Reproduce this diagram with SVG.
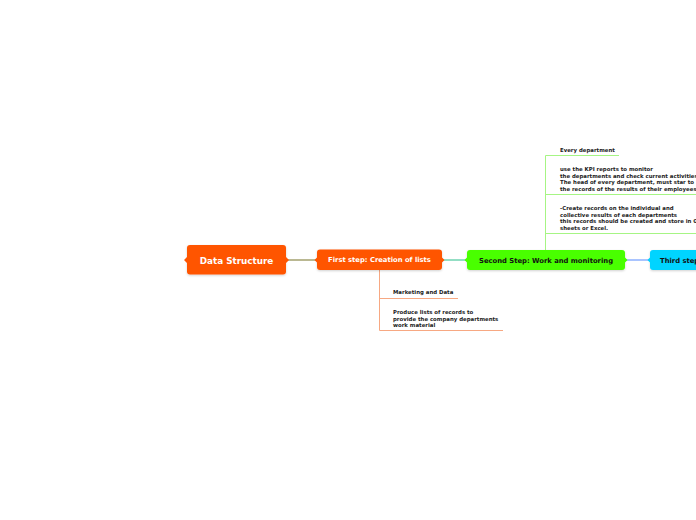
<svg xmlns="http://www.w3.org/2000/svg" width="696" height="520" viewBox="0 0 696 520">
<style>
.n{font-family:"DejaVu Sans",Verdana,sans-serif;font-weight:bold}
.w{fill:#ffffff}
.k{fill:#111111}
.c{font-family:"DejaVu Sans",Verdana,sans-serif;font-weight:bold;font-size:5.4px;fill:#222222}
.lo{stroke:#f7a882;stroke-width:1;fill:none}
.lg{stroke:#a6f584;stroke-width:1;fill:none}
</style>
<defs>
<filter id="sh" x="-10%" y="-20%" width="120%" height="150%">
<feDropShadow dx="0" dy="1" stdDeviation="1" flood-color="#000" flood-opacity="0.18"/>
</filter>
</defs>
<rect width="696" height="520" fill="#ffffff"/>
<g id="connectors">
<line x1="286" y1="260" x2="317" y2="260" stroke="#a3a06e" stroke-width="1.5"/>
<line x1="442" y1="260" x2="467" y2="260" stroke="#6fd3b0" stroke-width="1.5"/>
<line x1="625" y1="260" x2="650" y2="260" stroke="#8cb0ff" stroke-width="1.5"/>
<path class="lo" d="M379.5 270 V330.5"/>
<path class="lo" d="M379.5 298.5 H458"/>
<path class="lo" d="M379.5 330.5 H503"/>
<path class="lg" d="M545.5 250 V155.5"/>
<path class="lg" d="M545.5 155.5 H619"/>
<path class="lg" d="M545.5 194.5 H696"/>
<path class="lg" d="M545.5 233.5 H696"/>
</g>
<g id="node-data-structure">
<rect x="187" y="245" width="99" height="29.5" rx="3" fill="#ff5500" filter="url(#sh)"/>
<path d="M187 257 L184 260 L187 263 Z M286 257 L289 260 L286 263 Z" fill="#ff5500"/>
<text class="n w" x="236.5" y="263.5" font-size="8.8" text-anchor="middle">Data Structure</text>
</g>
<g id="node-first-step">
<rect x="317" y="249.5" width="125" height="20.5" rx="3" fill="#ff5500" filter="url(#sh)"/>
<path d="M317 257.5 L314.5 260 L317 262.5 Z M442 257.5 L444.5 260 L442 262.5 Z" fill="#ff5500"/>
<text class="n w" x="379.5" y="262.4" font-size="6.8" text-anchor="middle">First step: Creation of lists</text>
</g>
<g id="node-second-step">
<rect x="467" y="250" width="158" height="20" rx="3" fill="#48ff00" filter="url(#sh)"/>
<path d="M467 257.5 L464.5 260 L467 262.5 Z M625 257.5 L627.5 260 L625 262.5 Z" fill="#48ff00"/>
<text class="n k" x="546" y="262.5" font-size="6.8" text-anchor="middle">Second Step: Work and monitoring</text>
</g>
<g id="node-third-step">
<rect x="650" y="250" width="80" height="20" rx="3" fill="#00d4ff" filter="url(#sh)"/>
<path d="M650 257.5 L647.5 260 L650 262.5 Z" fill="#00d4ff"/>
<text class="n k" x="660" y="262.5" font-size="6.8">Third step</text>
</g>
<g id="node-marketing">
<text class="c" x="393" y="294">Marketing and Data</text>
</g>
<g id="node-produce">
<text class="c" x="393" y="314">Produce lists of records to</text>
<text class="c" x="393" y="320.5">provide the company departments</text>
<text class="c" x="393" y="327">work material</text>
</g>
<g id="node-every">
<text class="c" x="560" y="152">Every department</text>
</g>
<g id="node-kpi">
<text class="c" x="560" y="171">use the KPI reports to monitor</text>
<text class="c" x="560" y="177.5">the departments and check current activities</text>
<text class="c" x="560" y="184">The head of every department, must star to</text>
<text class="c" x="560" y="190.5">the records of the results of their employees</text>
</g>
<g id="node-create">
<text class="c" x="560" y="210">-Create records on the individual and</text>
<text class="c" x="560" y="216.5">collective results of each departments</text>
<text class="c" x="560" y="223">this records should be created and store in Google</text>
<text class="c" x="560" y="229.5">sheets or Excel.</text>
</g>
</svg>
